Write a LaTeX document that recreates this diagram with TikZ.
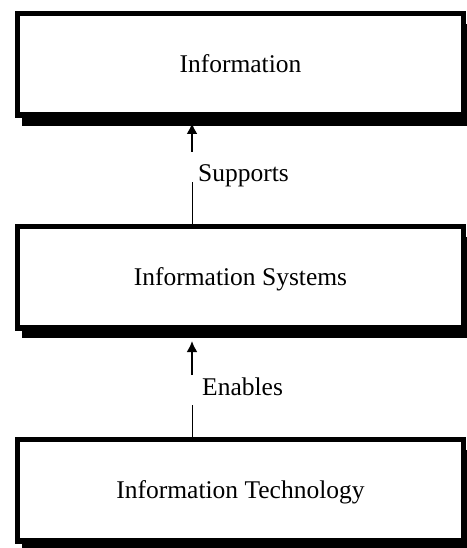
\documentclass[tikz,border=0pt]{standalone}
\usepackage{fontspec}
\setmainfont{Liberation Serif}
\usetikzlibrary{arrows.meta,shadows}
\begin{document}
\begin{tikzpicture}[x=1pt,y=-1pt,
  layerbox/.style={draw=black, line width=5.5pt, fill=white, rectangle,
    minimum width=446pt, minimum height=101.5pt, inner sep=0pt,
    text height=17pt, text depth=0pt,
    font=\fontsize{25.5}{30}\selectfont,
    drop shadow={shadow xshift=4.5pt, shadow yshift=-10.5pt, fill=black, opacity=1}},
  uparrow/.style={line width=2pt, -{Latex[length=11pt,width=11pt]}},
  plainline/.style={line width=1pt},
  edgelabel/.style={font=\fontsize{25.5}{30}\selectfont, inner sep=0pt, anchor=west}]
\useasboundingbox (0,0) rectangle (466,548);
\node[layerbox] (info) at (240.5,64.5) {Information};
\node[layerbox] (sys) at (240.5,277) {Information Systems};
\node[layerbox] (tech) at (240.5,490) {Information Technology};
% Supports
\coordinate (s1) at (192,152);
\coordinate (s1tip) at (192,123);
\coordinate (s2) at (192,182);
\draw[uparrow] (s1) -- (s1tip);
\node[edgelabel] (supports) at (198,176) {Supports};
\draw[plainline] (s2) -- (s2 |- sys.north);
% Enables
\coordinate (e1) at (192,375);
\coordinate (e1tip) at (192,341);
\coordinate (e2) at (192,405);
\draw[uparrow] (e1) -- (e1tip);
\node[edgelabel] (enables) at (202,387) {Enables};
\draw[plainline] (e2) -- (e2 |- tech.north);
\end{tikzpicture}
\end{document}
